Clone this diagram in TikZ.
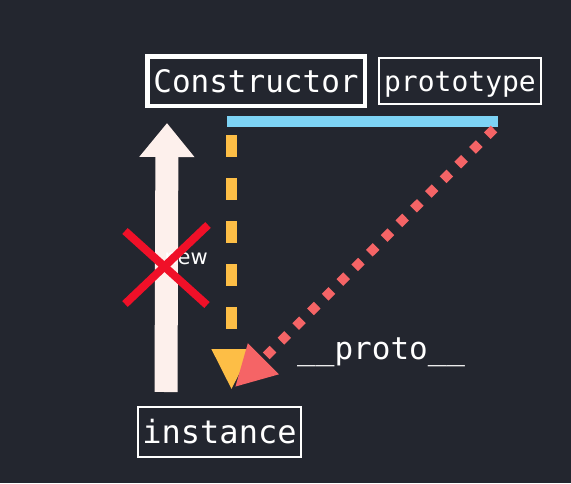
\documentclass[tikz,border=0pt]{standalone}
\usepackage{fontspec}
\setmonofont{DejaVu Sans Mono}
\setsansfont{DejaVu Sans}
\usepackage{xcolor}
\usetikzlibrary{arrows.meta}

\definecolor{bg}{RGB}{35,38,47}
\definecolor{sky}{RGB}{125,211,245}
\definecolor{amber}{RGB}{253,190,70}
\definecolor{salmon}{RGB}{245,100,102}
\definecolor{crossred}{RGB}{240,16,40}
\definecolor{shell}{RGB}{253,240,236}

\begin{document}
\begin{tikzpicture}[x=1pt, y=-1pt,
    labelbox/.style={draw=white, fill=bg, text=white, inner sep=0pt, text depth=0pt},
    mono/.style={font=\ttfamily\fontsize{#1}{#1}\selectfont}
]
    \fill[bg] (0, 0) rectangle (571, 483);
    \useasboundingbox (0, 0) rectangle (571, 483);

    \node [labelbox, mono=31, text height=22.6pt, line width=4.5pt, minimum width=217.5pt, minimum height=49.5pt] (ctor) at (256, 81) {Constructor};
    \node [labelbox, mono=28, text height=20.4pt, line width=2pt, minimum width=162pt, minimum height=46pt] (proto) at (460, 81) {prototype};
    \node [labelbox, mono=32, text height=23.4pt, line width=2pt, minimum width=163pt, minimum height=50pt] (inst) at (219.5, 432) {instance};

    \coordinate (bar west) at (227, 121.5);
    \coordinate (bar east) at (498, 121.5);
    \coordinate (amber start) at (231.5, 135);
    \coordinate (amber tip) at (231.5, 390);
    \coordinate (salmon start) at (494, 129);
    \coordinate (salmon tip) at (235, 387);
    \coordinate (new start) at (166, 392);
    \coordinate (new tip) at (167, 123);

    \draw[sky, line width=11pt] (bar west) -- (bar east);

    \draw[shell, line width=23pt, -{Triangle[length=34pt, width=53pt]}] (new start) -- (new tip);
    \node [text=white, font=\sffamily\fontsize{21}{21}\selectfont] (newlabel) at (186, 259) {new};

    \draw[amber, line width=11pt, dash pattern=on 22pt off 21pt,
        -{Triangle[length=41pt, width=37pt]}] (amber start) -- (amber tip);
    \draw[salmon, line width=9.5pt, dash pattern=on 9.5pt off 11.3pt,
        -{Triangle[length=40pt, width=41pt]}] (salmon start) -- (salmon tip);

    \node [text=white, mono=31, anchor=base west, inner sep=0pt] (protolabel) at (297, 359) {\_\_proto\_\_};

    % the cross over new
    \draw[crossred, line width=8pt] (125, 231) -- (207, 305);
    \draw[crossred, line width=8pt] (208, 225) -- (125, 304);

\end{tikzpicture}
\end{document}
